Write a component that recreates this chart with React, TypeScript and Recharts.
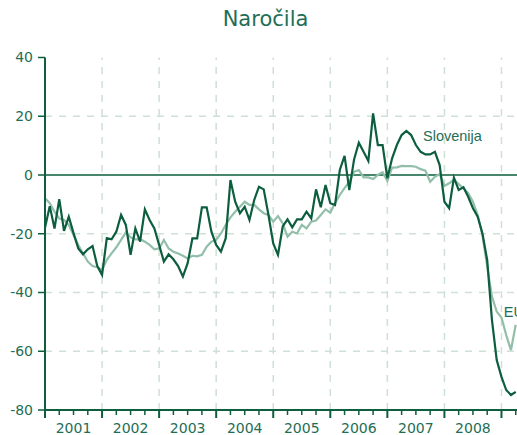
import React from 'react';
import { LineChart, Line, XAxis, YAxis, ReferenceLine, ReferenceDot } from 'recharts';

const slovenia = [
  -18, -10.6, -18.2, -8.2, -19, -14.2, -19.8, -25, -27, -25.3, -24.2, -31,
  -34, -21.5, -21.9, -19.3, -13.6, -17, -27.2, -18.2, -22.7, -11.7, -15.3, -18.2,
  -23.8, -29.5, -27, -28.7, -31, -34.6, -30, -21.6, -21.6, -11, -11, -19.3,
  -23.8, -26.1, -21.6, -1.7, -9.1, -13, -10.8, -15.3, -8.5, -4, -4.9, -13.6,
  -23.3, -27.2, -17.5, -15.1, -17.8, -15.1, -15.1, -12.5, -14.8, -4.9, -11, -3.4,
  -9.6, -10.2, 1.7, 6.5, -5.1, 5.3, 11, 7.9, 4.8, 21, 10.2, 10.2,
  -1.1, 5.7, 10.2, 13.6, 15, 13.6, 10.2, 7.9, 7, 7, 7.9, 3.4,
  -9.1, -11.3, -0.9, -5.1, -4.2, -7.4, -11.3, -14.2, -19.9, -29, -49.4, -63,
  -68.7, -73.2, -74.9, -73.8,
];

const eu = [
  -7.9, -9.6, -12.5, -14.8, -15.3, -17, -20.4, -23.8, -26.7, -29.5, -31, -31.4,
  -32.3, -28.9, -26.7, -24.6, -22.1, -19.6, -21.2, -21.9, -21.8, -22.7, -23.8, -25.3,
  -25, -22.1, -25, -26.1, -26.7, -27.5, -28.4, -27.5, -27.7, -27.2, -24.4, -22.7,
  -22.1, -19.9, -17, -14.4, -12.5, -10.8, -9.1, -10.2, -10.2, -11.7, -13, -13.6,
  -15.9, -14, -16.5, -21, -19.3, -19.9, -17, -18.2, -15.9, -15.5, -13.6, -11.7,
  -12.8, -9.6, -6.8, -4.5, -2.3, 1.1, 1.7, -0.8, -0.8, -1.4, 0, 0.9,
  -2, 2.5, 2.6, 3.1, 3, 3, 2.8, 2, 1.5, -2.3, -0.6, 0.3,
  -3.7, -2.8, -1.7, -3.1, -4.5, -6.2, -9.1, -13.6, -20.5, -31.2, -41.4, -46.5,
  -48.5, -54.5, -59.6, -51,
];

const yearLabels = ['2001', '2002', '2003', '2004', '2005', '2006', '2007', '2008'];
const yTicks = [-80, -60, -40, -20, 0, 20, 40];
const gridY = [20, -20, -40, -60];
const yearStarts = [12, 24, 36, 48, 60, 72, 84, 96];
const quarterTicks = [
  0, 3, 6, 9, 12, 15, 18, 21, 24, 27, 30, 33, 36, 39, 42, 45, 48, 51, 54, 57,
  60, 63, 66, 69, 72, 75, 78, 81, 84, 87, 90, 93, 96, 99,
];

const data = slovenia.map((s, i) => ({ m: i, slo: s, eu: eu[i] }));

const DARK = '#0d5e3e';
const LIGHT = '#92bfa9';
const TEXT = '#1f6e55';
const GRID = '#cfe0d7';
const FONT = '"DejaVu Sans", sans-serif';

const XTick = (props: any) => {
  const { x, y, payload } = props;
  const v = payload.value as number;
  const major = v % 12 === 0;
  const label = v % 12 === 6 ? yearLabels[Math.floor(v / 12)] : null;
  return (
    <g>
      <line x1={x} x2={x} y1={y} y2={y + (major ? 8 : 5)} stroke={DARK} strokeWidth={major ? 2 : 1.5} />
      {label && (
        <text x={x} y={y + 23} textAnchor="middle" fill={TEXT} fontSize={14} fontFamily={FONT}>
          {label}
        </text>
      )}
    </g>
  );
};

const SeriesLabel = (text: string) => (props: any) => {
  const { viewBox } = props;
  return (
    <text
      x={viewBox.x}
      y={viewBox.y}
      dominantBaseline="central"
      fill={TEXT}
      fontSize={14.5}
      fontFamily='"Liberation Sans", Arial, sans-serif'
    >
      {text}
    </text>
  );
};

export default function App() {
  return (
    <div style={{ position: 'absolute', left: 0, top: 0, width: 517, height: 435, overflow: 'hidden', background: '#fff' }}>
      <div
        style={{
          position: 'absolute',
          left: 0,
          top: 9,
          width: 531,
          textAlign: 'center',
          fontFamily: FONT,
          fontSize: 21,
          lineHeight: '21px',
          color: TEXT,
        }}
      >
        Naročila
      </div>
      <LineChart width={530} height={435} data={data} margin={{ top: 57.5, right: 0, bottom: 0, left: 0 }}>
        {gridY.map((g) => (
          <ReferenceLine key={'gy' + g} y={g} stroke={GRID} strokeWidth={1.5} strokeDasharray="7 7" />
        ))}
        {yearStarts.map((g) => (
          <ReferenceLine key={'gx' + g} x={g} stroke={GRID} strokeWidth={1.5} strokeDasharray="7 7" />
        ))}
        <ReferenceLine y={0} stroke={DARK} strokeWidth={1.5} />
        <XAxis
          dataKey="m"
          type="number"
          domain={[0, 102]}
          ticks={quarterTicks}
          interval={0}
          height={25}
          tickSize={0}
          tickMargin={0}
          tickLine={false}
          axisLine={{ stroke: DARK, strokeWidth: 2 }}
          tick={<XTick />}
        />
        <YAxis
          type="number"
          domain={[-80, 40]}
          ticks={yTicks}
          interval={0}
          width={45}
          tickSize={7}
          tickMargin={5}
          axisLine={{ stroke: DARK, strokeWidth: 2 }}
          tickLine={{ stroke: DARK, strokeWidth: 1.5 }}
          tick={{ fill: TEXT, fontSize: 14, fontFamily: FONT }}
        />
        <Line type="linear" dataKey="eu" stroke={LIGHT} strokeWidth={2.2} dot={false} isAnimationActive={false} />
        <Line type="linear" dataKey="slo" stroke={DARK} strokeWidth={2.2} dot={false} isAnimationActive={false} />
        <ReferenceDot x={79.5} y={13.3} r={0} fill="none" stroke="none" label={SeriesLabel('Slovenija')} />
        <ReferenceDot x={96.5} y={-46.6} r={0} fill="none" stroke="none" label={SeriesLabel('EU')} />
      </LineChart>
    </div>
  );
}
